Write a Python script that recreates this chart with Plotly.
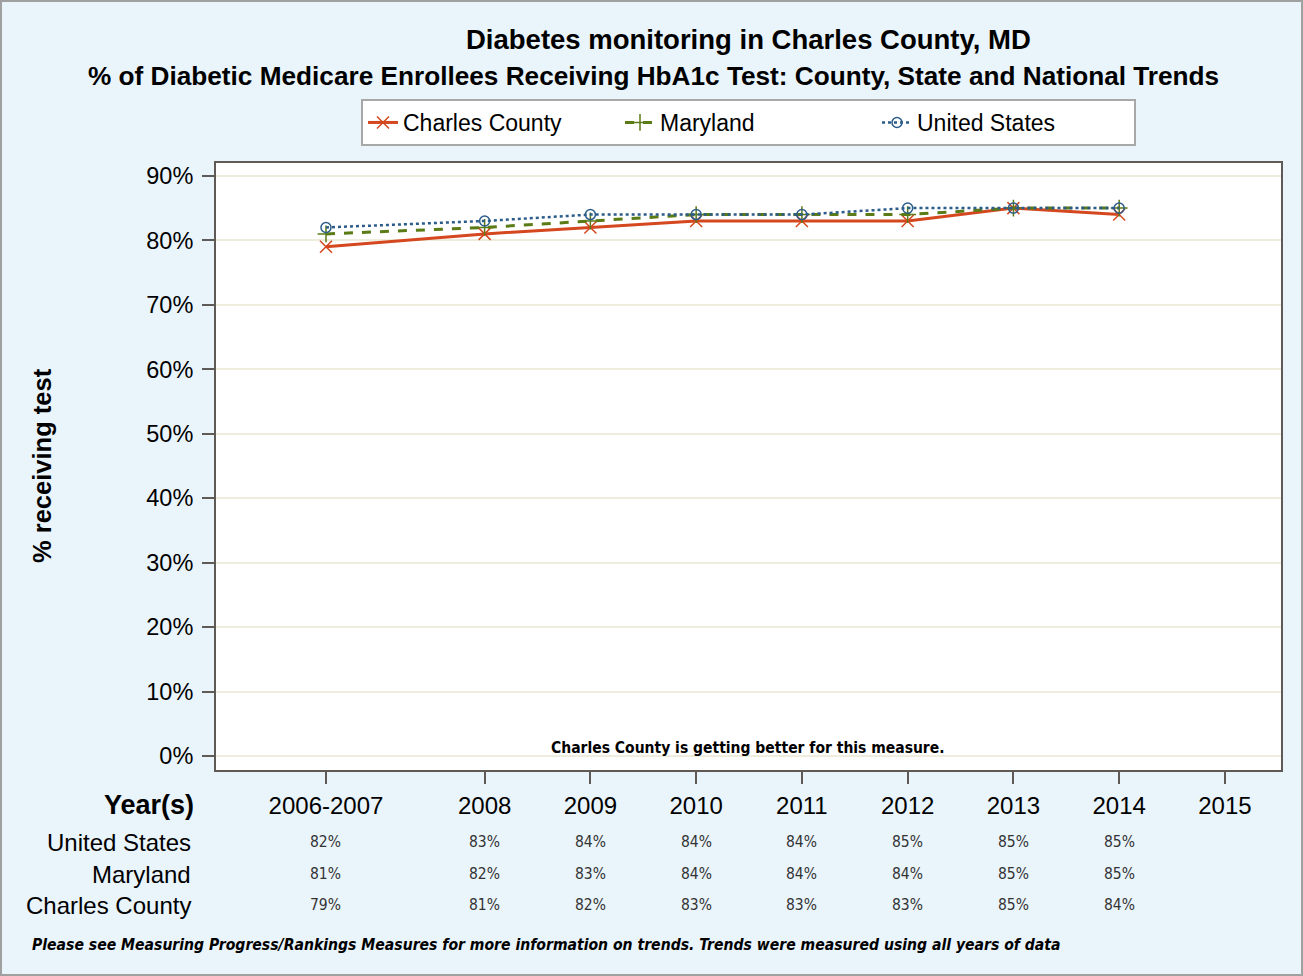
import plotly.graph_objects as go

# ---- data ----
periods = ["2006-2007", "2008", "2009", "2010", "2011", "2012", "2013", "2014"]
period_x = [2006.5, 2008, 2009, 2010, 2011, 2012, 2013, 2014]
axis_ticks = [2006.5, 2008, 2009, 2010, 2011, 2012, 2013, 2014, 2015]
axis_tick_text = ["2006-2007", "2008", "2009", "2010", "2011", "2012", "2013", "2014", "2015"]

charles_county = [79, 81, 82, 83, 83, 83, 85, 84]
maryland = [81, 82, 83, 84, 84, 84, 85, 85]
united_states = [82, 83, 84, 84, 84, 85, 85, 85]

W, H = 1303, 976
ML, MR, MT, MB = 216, 22, 163, 206
PW, PH = W - ML - MR, H - MT - MB
BG = "#EAF4FB"
FONT = "Liberation Sans, Arial, sans-serif"
NARROW = "Liberation Sans Narrow, Arial Narrow, DejaVu Sans Condensed, sans-serif"

C_CC = "#D4471F"
C_MD = "#5B7B16"
C_US = "#2B5C8A"


def px_x(px):
    """Page pixel column -> paper x (paper spans the plot area)."""
    return (px - ML) / PW


def px_y(py):
    """Page pixel row -> paper y."""
    return (H - MB - py) / PH


def label(text, x, y, size, family=FONT, xanchor="center", color="#000", **kw):
    return dict(text=text, x=px_x(x), y=px_y(y), xref="paper", yref="paper",
                xanchor=xanchor, yanchor="middle", showarrow=False,
                font=dict(size=size, color=color, family=family), **kw)


fig = go.Figure()

fig.add_trace(go.Scatter(
    x=period_x, y=charles_county, name="Charles County", mode="lines+markers",
    line=dict(color=C_CC, width=3),
    marker=dict(symbol="x-thin-open", size=12, line=dict(color=C_CC, width=1.5)),
))
fig.add_trace(go.Scatter(
    x=period_x, y=maryland, name="Maryland", mode="lines+markers",
    line=dict(color=C_MD, width=3, dash="dash"),
    marker=dict(symbol="cross-thin-open", size=12, line=dict(color=C_MD, width=1.5)),
))
fig.add_trace(go.Scatter(
    x=period_x, y=united_states, name="United States", mode="lines+markers",
    line=dict(color=C_US, width=2.5, dash="dot"),
    marker=dict(symbol="circle-open", size=10, line=dict(color=C_US, width=1.5)),
))

annotations = [
    label("<b>Diabetes monitoring in Charles County, MD</b>", 748, 40, 27.5),
    label("<b>% of Diabetic Medicare Enrollees Receiving HbA1c Test: County, State and National Trends</b>",
          653, 76, 26.2),
    label("<b>% receiving test</b>", 42, 466, 25.5, textangle=-90),
    label("<b>Charles County is getting better for this measure.</b>", 748, 748, 15.5, family=NARROW),
    label("<b><i>Please see Measuring Progress/Rankings Measures for more information on trends. "
          "Trends were measured using all years of data</i></b>", 30, 945, 15.6, family=NARROW,
          xanchor="left"),
    label("<b>Year(s)</b>", 196, 805, 27, xanchor="right"),
]

rows = [("United States", united_states, 842), ("Maryland", maryland, 874),
        ("Charles County", charles_county, 905)]
for row_name, vals, ypx in rows:
    annotations.append(label(row_name, 193, ypx, 24, xanchor="right"))
    for xv, v in zip(period_x, vals):
        annotations.append(dict(text=f"{v}%", x=xv, y=px_y(ypx), xref="x", yref="paper",
                                xanchor="center", yanchor="middle", showarrow=False,
                                font=dict(size=15.5, color="#333", family=NARROW)))

fig.update_layout(
    width=W, height=H,
    paper_bgcolor=BG, plot_bgcolor="#FFFFFF",
    margin=dict(l=ML, r=MR, t=MT, b=MB, autoexpand=False),
    font=dict(family=FONT, color="#000"),
    showlegend=True,
    legend=dict(
        orientation="h", x=px_x(361), y=px_y(99), xanchor="left", yanchor="top",
        bgcolor="#FFFFFF", bordercolor="#A8A8A8", borderwidth=2,
        font=dict(size=23, family=FONT, color="#000"),
        entrywidth=212, entrywidthmode="pixels",
        traceorder="normal",
    ),
    xaxis=dict(
        range=[2005.46, 2015.53], tickmode="array", tickvals=axis_ticks, ticktext=axis_tick_text,
        showgrid=False, zeroline=False, showline=True, mirror=True, linecolor="#5F5A55", linewidth=2,
        ticks="outside", ticklen=12, tickwidth=2, tickcolor="#5F5A55",
        tickfont=dict(size=24, family=FONT, color="#000"), ticklabelstandoff=1,
    ),
    yaxis=dict(
        range=[-2.17, 92.0], tickmode="linear", tick0=0, dtick=10, ticksuffix="%",
        showgrid=True, gridcolor="#EEECDD", gridwidth=2, zeroline=False,
        showline=True, mirror=True, linecolor="#5F5A55", linewidth=2,
        ticks="outside", ticklen=12, tickwidth=2, tickcolor="#5F5A55",
        tickfont=dict(size=23.5, family=FONT, color="#000"), ticklabelstandoff=4,
    ),
    annotations=annotations,
    shapes=[dict(type="rect", xref="paper", yref="paper",
                 x0=px_x(1), y0=px_y(H - 1), x1=px_x(W - 1), y1=px_y(1),
                 line=dict(color="#A0A0A0", width=2), fillcolor="rgba(0,0,0,0)", layer="below")],
)

fig.write_html("out.html")
